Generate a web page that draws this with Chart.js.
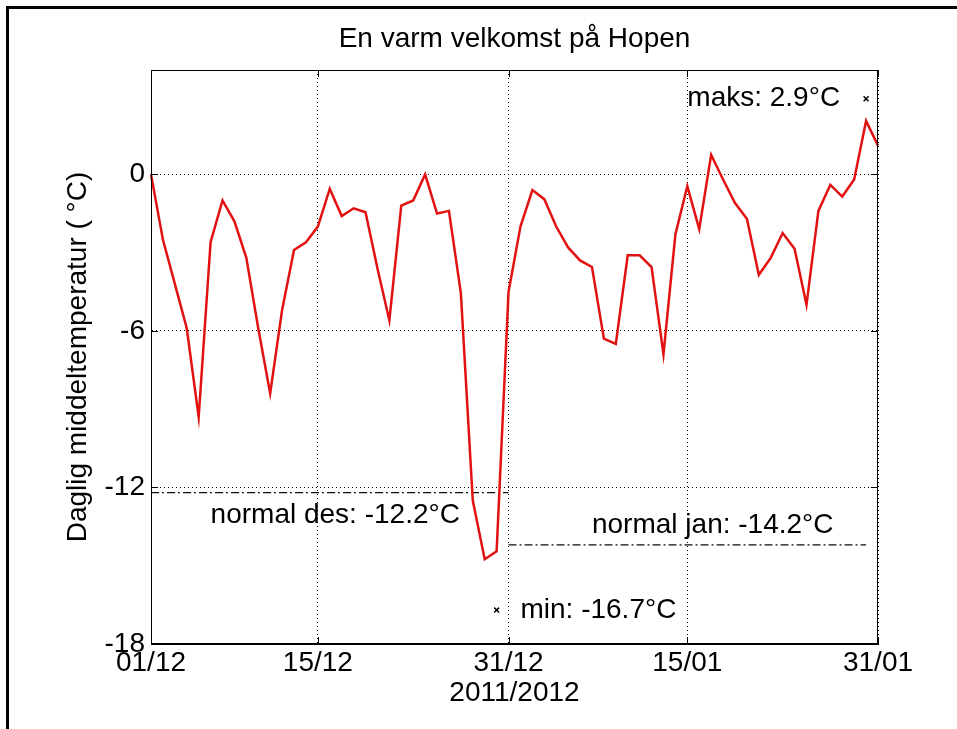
<!DOCTYPE html>
<html>
<head>
<meta charset="utf-8">
<title>En varm velkomst på Hopen</title>
<script src="https://cdn.jsdelivr.net/npm/chart.js@4.4.0/dist/chart.umd.min.js"></script>
<style>
  html, body { margin: 0; padding: 0; background: #fff; }
</style>
</head>
<body>
<canvas id="hopenChart" width="957" height="729"></canvas>
<script>
// Daily mean temperature at Hopen, Dec 2011 - Jan 2012

const days = [
  '01/12', '02/12', '03/12', '04/12', '05/12', '06/12', '07/12', '08/12', '09/12', '10/12',
  '11/12', '12/12', '13/12', '14/12', '15/12', '16/12', '17/12', '18/12', '19/12', '20/12',
  '21/12', '22/12', '23/12', '24/12', '25/12', '26/12', '27/12', '28/12', '29/12', '30/12',
  '31/12', '01/01', '02/01', '03/01', '04/01', '05/01', '06/01', '07/01', '08/01', '09/01',
  '10/01', '11/01', '12/01', '13/01', '14/01', '15/01', '16/01', '17/01', '18/01', '19/01',
  '20/01', '21/01', '22/01', '23/01', '24/01', '25/01', '26/01', '27/01', '28/01', '29/01',
  '30/01', '31/01'
];

const meanTemp = [
  0.0, -2.5, -4.2, -5.9, -9.3, -2.6, -1.0, -1.8, -3.2, -5.9,
  -8.4, -5.2, -2.9, -2.6, -2.0, -0.55, -1.6, -1.3, -1.45, -3.6,
  -5.6, -1.2, -1.0, 0.0, -1.5, -1.4, -4.55, -12.5, -14.75, -14.45,
  -4.5, -2.0, -0.6, -0.95, -2.0, -2.8, -3.3, -3.55, -6.3, -6.5,
  -3.1, -3.1, -3.55, -6.9, -2.3, -0.45, -2.1, 0.75, -0.2, -1.1,
  -1.7, -3.85, -3.2, -2.25, -2.85, -5.0, -1.4, -0.4, -0.85, -0.2,
  2.05, 1.1
];

// climate normals
const normalDes = -12.2;
const normalJan = -14.2;
const normalDesDays = ['01/12', '31/12'];
const normalJanDays = ['31/12', '30/01'];

// extremes of the period (min / maks)
const extremeDays = ['30/12', '30/01'];
const extremeTemps = [-16.7, 2.9];

// tick labels
const xTickDays = ['01/12', '15/12', '31/12', '15/01', '31/01'];
const yTickValues = [-18, -12, -6, 0];

// text labels in the plot: text, day, temperature
const noteTexts = ['normal des: -12.2°C', 'normal jan: -14.2°C', 'min: -16.7°C', 'maks: 2.9°C'];
const noteDays = ['06/12', '07/01', '01/01', '15/01'];
const noteTemps = [-13.05, -13.45, -16.7, 2.9];

const FONT = "'Liberation Sans', Arial, Helvetica, sans-serif";
const FONT_SIZE = 28;

// white background, outer frame, closed axes box, inward ticks and text notes
const matlabLook = {
  id: 'matlabLook',
  beforeDraw(chart) {
    const {ctx, width, height} = chart;
    ctx.save();
    ctx.fillStyle = '#fff';
    ctx.fillRect(0, 0, width, height);
    ctx.strokeStyle = '#000';
    ctx.lineWidth = 3;
    ctx.beginPath();
    ctx.moveTo(7.5, height);
    ctx.lineTo(7.5, 7.5);
    ctx.lineTo(width, 7.5);
    ctx.stroke();
    ctx.restore();
  },
  afterDatasetsDraw(chart) {
    const {ctx, chartArea: a, scales: {x, y}} = chart;
    ctx.save();
    ctx.strokeStyle = '#000';
    ctx.lineWidth = 1;
    ctx.strokeRect(Math.round(a.left) + 0.5, Math.round(a.top) + 0.5,
      Math.round(a.right - a.left) - 1, Math.round(a.bottom - a.top) - 1);

    const len = 7;
    ctx.beginPath();
    x.ticks.forEach(t => {
      const px = Math.round(x.getPixelForValue(t.value)) + 0.5;
      ctx.moveTo(px, a.bottom); ctx.lineTo(px, a.bottom - len);
      ctx.moveTo(px, a.top); ctx.lineTo(px, a.top + len);
    });
    y.ticks.forEach(t => {
      const py = Math.round(y.getPixelForValue(t.value)) + 0.5;
      ctx.moveTo(a.left, py); ctx.lineTo(a.left + len, py);
      ctx.moveTo(a.right, py); ctx.lineTo(a.right - len, py);
    });
    ctx.stroke();

    ctx.fillStyle = '#000';
    ctx.font = FONT_SIZE + 'px ' + FONT;
    ctx.textAlign = 'left';
    ctx.textBaseline = 'middle';
    noteTexts.forEach((txt, i) => {
      ctx.fillText(txt, x.getPixelForValue(days.indexOf(noteDays[i])), y.getPixelForValue(noteTemps[i]));
    });
    ctx.restore();
  }
};

const font = {family: FONT, size: FONT_SIZE, weight: 'normal'};

new Chart(document.getElementById('hopenChart'), {
  type: 'line',
  data: {
    labels: days,
    datasets: [
      {
        label: 'Daglig middeltemperatur',
        data: meanTemp,
        borderColor: 'rgb(226, 18, 18)',
        borderWidth: 2.5,
        pointRadius: 0,
        tension: 0,
        fill: false
      },
      {
        label: 'normal des',
        data: normalDesDays.map(d => ({x: d, y: normalDes})),
        borderColor: '#111',
        borderWidth: 1.2,
        borderDash: [8, 3, 2, 3],
        pointRadius: 0
      },
      {
        label: 'normal jan',
        data: normalJanDays.map(d => ({x: d, y: normalJan})),
        borderColor: '#111',
        borderWidth: 1.2,
        borderDash: [8, 3, 2, 3],
        pointRadius: 0
      },
      {
        label: 'min/maks',
        data: extremeDays.map((d, i) => ({x: d, y: extremeTemps[i]})),
        showLine: false,
        pointStyle: 'crossRot',
        pointRadius: 3.5,
        borderColor: '#000',
        borderWidth: 1.5
      }
    ]
  },
  options: {
    responsive: false,
    animation: false,
    layout: {padding: {left: 20, right: 79, top: 8, bottom: 15}},
    plugins: {
      legend: {display: false},
      tooltip: {enabled: false},
      title: {
        display: true,
        text: 'En varm velkomst på Hopen',
        fullSize: false,
        color: '#000',
        font: font,
        padding: {top: 14, bottom: 14.4}
      }
    },
    scales: {
      x: {
        type: 'category',
        grid: {color: '#000', lineWidth: 1, drawTicks: false},
        border: {display: true, color: '#000', width: 1, dash: [1, 3]},
        ticks: {autoSkip: false, maxRotation: 0, color: '#000', font: font, padding: 2},
        title: {display: true, text: '2011/2012', color: '#000', font: font, padding: {top: 0, bottom: 4}},
        afterBuildTicks: s => { s.ticks = s.ticks.filter(t => xTickDays.includes(days[t.value])); },
        afterFit: s => { s.height = 70; }
      },
      y: {
        min: -18,
        max: 4,
        grid: {color: '#000', lineWidth: 1, drawTicks: false},
        border: {display: true, color: '#000', width: 1, dash: [1, 3]},
        ticks: {color: '#000', font: font, padding: 6},
        title: {display: true, text: 'Daglig middeltemperatur ( °C)', color: '#000', font: font, padding: {top: 41, bottom: 0}},
        afterBuildTicks: s => { s.ticks = yTickValues.map(v => ({value: v})); },
        afterFit: s => { s.width = 131; }
      }
    }
  },
  plugins: [matlabLook]
});
</script>
</body>
</html>
